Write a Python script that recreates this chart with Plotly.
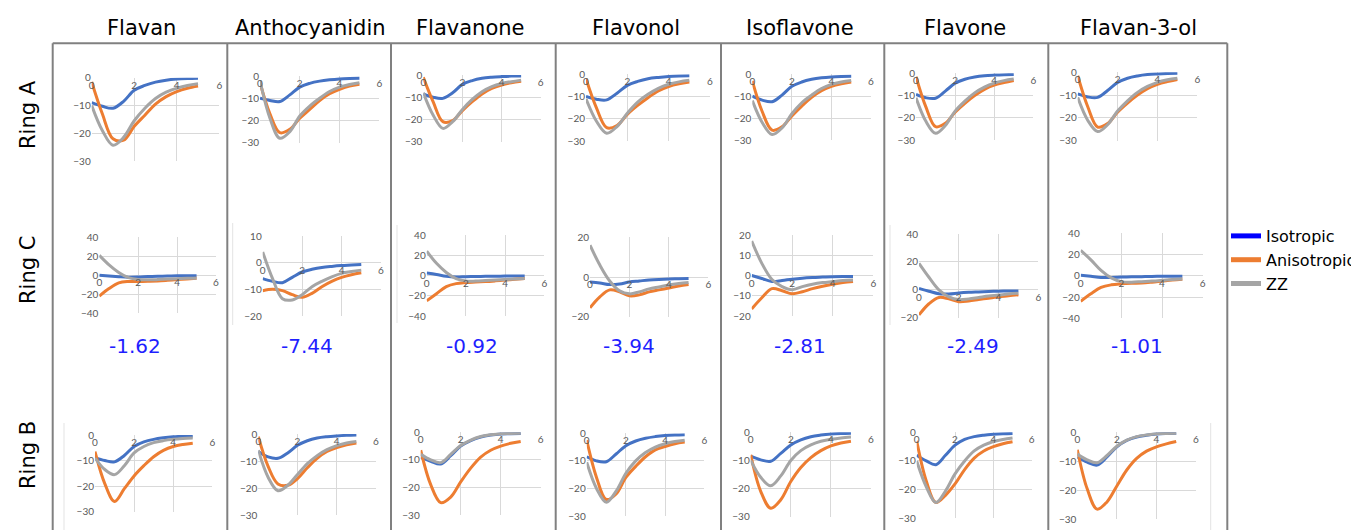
import plotly.graph_objects as go

W, H = 1359, 530
OFF = 8  # default page margin of the html body

# ---------------- data ----------------
compounds = ["Flavan", "Anthocyanidin", "Flavanone", "Flavonol", "Isoflavone", "Flavone", "Flavan-3-ol"]
rings = ["Ring A", "Ring C", "Ring B"]
series_names = ["Isotropic", "Anisotropic", "ZZ"]
distance = [0, 0.5, 1, 1.5, 2, 2.5, 3, 3.5, 4, 4.5, 5]
ring_c_values = ["-1.62", "-7.44", "-0.92", "-3.94", "-2.81", "-2.49", "-1.01"]

# Ring A
iso_A = [
    [-9, -10.3, -11, -8.5, -4.5, -2.8, -1.6, -0.9, -0.5, -0.3, -0.2],
    [-10, -11, -11.5, -8.5, -5, -3.3, -2.3, -1.7, -1.3, -1.1, -1],
    [-8.5, -10, -10.5, -8, -4.2, -2.5, -1.5, -1, -0.7, -0.5, -0.4],
    [-10, -11.2, -11.5, -8.5, -5, -3.2, -2, -1.4, -1, -0.8, -0.7],
    [-10, -11.8, -12.5, -9.5, -5.5, -3.5, -2.3, -1.6, -1.2, -1, -0.9],
    [-9.5, -11, -11.2, -8, -4.5, -2.7, -1.7, -1.1, -0.8, -0.6, -0.5],
    [-9.5, -10.8, -11, -8, -4.5, -2.6, -1.6, -1, -0.7, -0.5, -0.4],
]
ani_A = [
    [-1.5, -13, -22, -22.5, -17.5, -13.5, -9.5, -6.8, -5, -3.8, -3],
    [-3, -17, -25.5, -24, -19, -15, -11, -8, -6, -4.5, -3.7],
    [-1, -12, -21, -20.5, -16, -12, -8.5, -6, -4.5, -3.5, -2.8],
    [-2, -15, -24, -23, -18, -14, -10.5, -7.5, -5.5, -4.3, -3.5],
    [-3, -17, -25.5, -24, -19, -14.5, -10.5, -7.5, -5.5, -4.3, -3.5],
    [-1.5, -15, -24, -22.5, -17.5, -13.5, -10, -7.2, -5.3, -4.2, -3.3],
    [-1.5, -15, -24, -22.5, -17.5, -13.5, -10, -7.2, -5.3, -4.1, -3.2],
]
zz_A = [
    [-10, -19, -24.3, -21.5, -15.5, -11, -7.5, -5.2, -3.8, -2.8, -2.2],
    [-2, -19, -28, -25, -18, -13.5, -10, -7, -5, -3.8, -3],
    [-8, -18, -24, -21, -15.5, -11, -7.5, -5.2, -3.8, -3, -2.3],
    [-11, -21, -26.5, -23.5, -17.5, -12.5, -9, -6.3, -4.5, -3.4, -2.7],
    [-12, -22, -27.5, -24.5, -18, -13, -9.5, -6.5, -4.6, -3.5, -2.8],
    [-11, -21.5, -27, -23.5, -17, -12.5, -8.8, -6.2, -4.4, -3.3, -2.6],
    [-11, -21, -26, -23, -17, -12.5, -8.8, -6.2, -4.4, -3.3, -2.6],
]

# Ring C
iso_C = [
    [0, -0.8, -1.5, -2, -1.8, -1.3, -1, -0.8, -0.6, -0.5, -0.5],
    [-6, -7, -7.5, -5.5, -3.5, -2.5, -1.8, -1.4, -1.1, -0.9, -0.7],
    [2.5, 1, -0.8, -1.5, -1.2, -1, -0.8, -0.7, -0.6, -0.5, -0.5],
    [-2.5, -3, -3.8, -3.5, -2.5, -2, -1.5, -1.2, -1, -0.9, -0.8],
    [0, -1.5, -3, -2.5, -1.8, -1.3, -1, -0.8, -0.6, -0.5, -0.5],
    [1, -1, -2.8, -3, -2.3, -1.8, -1.5, -1.2, -1, -0.9, -0.8],
    [0.5, -0.5, -1.5, -1.5, -1.2, -1, -0.8, -0.6, -0.5, -0.5, -0.5],
]
ani_C = [
    [-22, -14, -8, -6.5, -6.5, -6.3, -6, -5.3, -4.5, -3.8, -3],
    [-10.5, -10, -10.5, -12, -13, -11.5, -9, -7, -5.5, -4.5, -3.8],
    [-25, -18, -11, -8, -7, -6.5, -6, -5.3, -4.5, -3.8, -3],
    [-15.5, -10, -6.5, -7.5, -9.5, -9, -7.5, -6.5, -5.5, -4.5, -3.8],
    [-16.5, -11, -6.5, -7.5, -9, -8, -6.5, -5.3, -4.3, -3.5, -3],
    [-18, -10, -5.5, -6.5, -8.5, -8, -7, -6, -5, -4.3, -3.5],
    [-24, -17, -11, -8.5, -7.5, -7, -6.8, -6, -5, -4, -3.3],
]
zz_C = [
    [21, 11, 3, -2.5, -4.5, -4.8, -4.5, -4, -3.5, -3.2, -3],
    [4, -6, -13.5, -14, -12, -9, -7, -5.3, -4, -3.3, -2.8],
    [24, 12, 3, -3, -5.5, -5.5, -5, -4.5, -4, -3.5, -3],
    [16, 6, -2, -7, -8.5, -7.5, -6, -5, -4, -3.3, -2.8],
    [17, 6, -2, -5.5, -7, -5.5, -4.3, -3.5, -3, -2.5, -2.2],
    [19, 9, 0, -5, -7, -6.5, -5.5, -4.5, -3.8, -3, -2.5],
    [24, 15, 5, -2, -5.5, -6, -5.5, -5, -4.3, -3.5, -3],
]

# Ring B
iso_B = [
    [-9, -10, -10.5, -8, -4.5, -2.7, -1.7, -1.1, -0.7, -0.5, -0.4],
    [-6.5, -8.5, -9, -7, -4.2, -2.5, -1.5, -1, -0.7, -0.5, -0.4],
    [-9, -10.5, -11.5, -8.5, -5, -3, -1.7, -1, -0.6, -0.5, -0.4],
    [-8.5, -10, -10.3, -7.5, -4.5, -2.8, -1.8, -1.2, -0.8, -0.6, -0.5],
    [-8.5, -9.8, -10.3, -7.5, -4.5, -2.7, -1.6, -1, -0.6, -0.4, -0.3],
    [-8, -10, -11.3, -8, -4.5, -2.5, -1.5, -1, -0.7, -0.5, -0.4],
    [-8.5, -10.3, -11.3, -8.5, -5, -2.8, -1.6, -1, -0.6, -0.4, -0.3],
]
ani_B = [
    [-6.5, -19, -26, -21, -16, -12, -8.5, -6, -4.5, -3.7, -3.2],
    [-1, -12, -18.5, -19, -16.5, -12.5, -9, -6.5, -5, -4, -3.3],
    [-6.5, -19, -25.5, -23.5, -18, -13, -9, -6.5, -5, -4, -3.3],
    [-2.5, -16, -24, -22, -16, -12, -8.5, -6, -4.8, -3.8, -3.2],
    [-8, -21, -27, -24, -17.5, -12.5, -9, -6.5, -4.8, -3.8, -3.2],
    [-3, -17, -24.5, -22, -18, -13, -9, -6.5, -5, -4, -3.3],
    [-6, -19.5, -26.5, -24, -18.5, -13, -9, -6.5, -5, -4, -3.2],
]
zz_B = [
    [-9, -13.5, -15.5, -12, -7, -4.5, -3, -2.2, -1.7, -1.4, -1.2],
    [-6, -16, -21, -19, -15, -11, -8, -5.8, -4.3, -3.3, -2.8],
    [-8, -10, -11, -8, -4.8, -2.8, -1.5, -0.9, -0.5, -0.4, -0.3],
    [-10.5, -20, -25, -21, -14.5, -10, -7, -5, -3.8, -3, -2.5],
    [-10, -16, -19, -15.5, -10, -6.5, -4.5, -3.2, -2.5, -2, -1.7],
    [-10, -19, -24.5, -20.5, -14.5, -10, -6.5, -4.5, -3.2, -2.5, -2],
    [-7.5, -9.5, -10.5, -8, -4.8, -2.7, -1.5, -0.9, -0.5, -0.4, -0.3],
]

y_range_A = [-30, 0]
y_range_B = [-30, 0]
y_ranges_C = [[-40, 40], [-20, 10], [-40, 40], [-20, 20], [-20, 20], [-20, 40], [-40, 40]]
y_dticks_C = [20, 10, 20, 20, 10, 20, 20]

# ---------------- layout geometry (window pixels: x=0, x=6, top, bottom) ----------------
box_A = [(91.7, 219.3, 77.7, 161), (260, 379.3, 76, 142.7), (423.3, 540.7, 75, 141.7),
         (586, 710, 74.3, 141), (752.3, 871, 74.3, 140), (916, 1033.3, 73.3, 140),
         (1077.7, 1197.3, 72.3, 140.7)]
box_C = [(99.3, 216, 237.3, 313.3), (262.7, 381, 236, 316), (426.7, 544.3, 235, 316),
         (590, 708.3, 237.3, 316.7), (751.7, 873.3, 235, 316), (919, 1038.3, 234, 317.7),
         (1080.7, 1202.7, 233.3, 318.3)]
box_B = [(95, 212.3, 435, 511.7), (258.3, 376, 434, 515), (420.7, 540.7, 432.3, 515),
         (586.7, 704.3, 433.3, 516), (750.7, 871, 432.3, 516.7), (916.7, 1031.7, 432.3, 518.3),
         (1077.3, 1196, 432.3, 519.3)]

header_x = [141, 310, 470, 636, 800, 965, 1138]
header_y = 28
row_label_y = [115, 270, 455]
value_x = [135, 306.7, 471.7, 629.3, 800, 972.7, 1136.7]
value_y = 346
border_x = [52.7, 227.3, 391, 555.7, 721, 884.3, 1048.3, 1227.3]
border_top = 43.3
faint_lines = [(232.7, 223, 325), (64, 423, 530), (397, 225, 323), (890, 225, 325), (1210.7, 423, 530)]

colors = ["#4472C4", "#ED7D31", "#A5A5A5"]
legend_colors = ["#0000FF", "#ED7D31", "#A5A5A5"]
GRID = "#D9D9D9"
TICK = "#595959"

FW, FH = W - OFF, H - OFF


def px(x):
    return (x - OFF) / FW


def py(y):
    return 1 - (y - OFF) / FH


fig = go.Figure()
layout = {}

ring_data = [
    (iso_A, ani_A, zz_A, box_A, [y_range_A] * 7, [10] * 7),
    (iso_C, ani_C, zz_C, box_C, y_ranges_C, y_dticks_C),
    (iso_B, ani_B, zz_B, box_B, [y_range_B] * 7, [10] * 7),
]

k = 0
for r, (iso, ani, zz, boxes, yranges, dticks) in enumerate(ring_data):
    for c in range(len(compounds)):
        k += 1
        xn = "x" if k == 1 else f"x{k}"
        yn = "y" if k == 1 else f"y{k}"
        xl = "xaxis" if k == 1 else f"xaxis{k}"
        yl = "yaxis" if k == 1 else f"yaxis{k}"
        x0p, x6p, ytp, ybp = boxes[c]
        ymin, ymax = yranges[c]
        ybot, ytop = py(ybp), py(ytp)
        zero_pos = ybot + (0 - ymin) / (ymax - ymin) * (ytop - ybot)
        for s, vals in enumerate([iso[c], ani[c], zz[c]]):
            fig.add_trace(go.Scatter(
                x=distance, y=vals, mode="lines", xaxis=xn, yaxis=yn,
                line=dict(color=colors[s], width=3, shape="spline", smoothing=1.0),
                showlegend=False, hoverinfo="skip", name=series_names[s]))
        layout[xl] = dict(
            domain=[px(x0p), px(x6p)], range=[0, 6], tick0=0, dtick=2,
            showgrid=True, gridcolor=GRID, gridwidth=1, zeroline=False, showline=False,
            anchor="free", position=zero_pos, ticks="", ticklen=0,
            tickfont=dict(family="Lato", size=10, color=TICK), fixedrange=True)
        layout[yl] = dict(
            domain=[ybot, ytop], range=[ymin, ymax], tick0=0, dtick=dticks[c],
            showgrid=True, gridcolor=GRID, gridwidth=1, zeroline=False, showline=False,
            anchor=xn, ticks="", ticklen=0,
            tickfont=dict(family="Lato", size=10, color=TICK), fixedrange=True)

# legend-only traces
for s in range(3):
    fig.add_trace(go.Scatter(x=[None], y=[None], mode="lines", name=series_names[s],
                             line=dict(color=legend_colors[s], width=5), showlegend=True))

annotations = []
for c, name in enumerate(compounds):
    annotations.append(dict(text=name, x=px(header_x[c]), y=py(header_y), xref="paper", yref="paper",
                            showarrow=False, xanchor="center", yanchor="middle",
                            font=dict(family="DejaVu Sans", size=21, color="black")))
    annotations.append(dict(text=ring_c_values[c], x=px(value_x[c]), y=py(value_y), xref="paper", yref="paper",
                            showarrow=False, xanchor="center", yanchor="middle",
                            font=dict(family="DejaVu Sans", size=20, color="#1F1FFF")))
for r, name in enumerate(rings):
    annotations.append(dict(text=name, x=px(28), y=py(row_label_y[r]), xref="paper", yref="paper",
                            showarrow=False, textangle=-90, xanchor="center", yanchor="middle",
                            font=dict(family="DejaVu Sans", size=21, color="black")))

shapes = []
for bx in border_x:
    shapes.append(dict(type="line", xref="paper", yref="paper", x0=px(bx), x1=px(bx),
                       y0=py(border_top), y1=0, line=dict(color="#808080", width=2)))
shapes.append(dict(type="line", xref="paper", yref="paper", x0=px(border_x[0]), x1=px(border_x[-1]),
                   y0=py(border_top), y1=py(border_top), line=dict(color="#808080", width=2)))
for fx, fy0, fy1 in faint_lines:
    shapes.append(dict(type="line", xref="paper", yref="paper", x0=px(fx), x1=px(fx),
                       y0=py(fy0), y1=py(fy1), line=dict(color="#E3E3E3", width=1)))

fig.update_layout(
    width=FW, height=FH, margin=dict(l=0, r=0, t=0, b=0, autoexpand=False),
    paper_bgcolor="white", plot_bgcolor="rgba(0,0,0,0)",
    showlegend=True,
    legend=dict(x=px(1226), y=py(219), xanchor="left", yanchor="top",
                font=dict(family="DejaVu Sans", size=16, color="black"),
                bgcolor="rgba(0,0,0,0)", tracegroupgap=0, itemwidth=30),
    annotations=annotations, shapes=shapes,
    **layout)

fig.write_html("out.html")
